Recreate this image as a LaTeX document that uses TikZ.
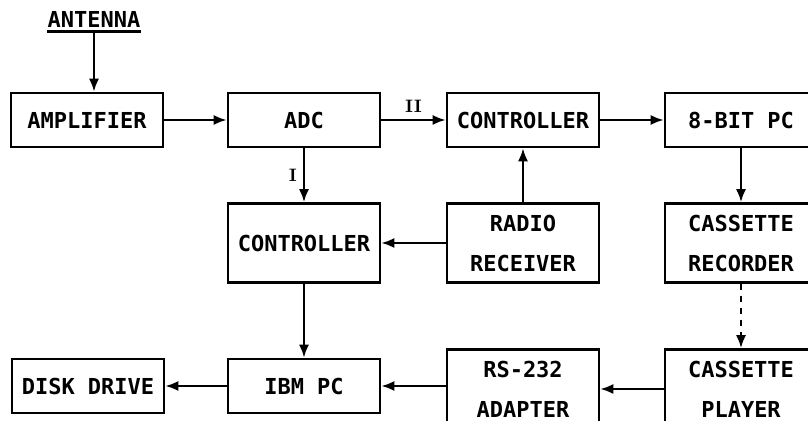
\documentclass[tikz,border=0pt]{standalone}
\usepackage{fontspec}
\setmonofont{DejaVu Sans Mono}
\usetikzlibrary{arrows.meta}

\tikzset{
  box/.style={draw, line width=1.3pt, minimum width=76pt, minimum height=27pt,
    font=\ttfamily\bfseries\fontsize{11}{20}\selectfont},
  tallbox/.style={box, minimum height=39.5pt, align=center},
  arr/.style={-{Latex[length=6.5pt,width=5pt]}, line width=1.1pt},
  roman/.style={font=\rmfamily\bfseries\small, inner sep=3pt}
}

\begin{document}
\begin{tikzpicture}[x=0.5pt, y=-0.5pt]

   \clip (0,0) rectangle (808,421);

   % top row
   \node[inner xsep=0pt, inner ysep=2pt, font=\ttfamily\bfseries\fontsize{11}{13}\selectfont] (antenna) at (94,19) {ANTENNA};
   \draw[line width=1.1pt] (antenna.south west) -- (antenna.south east);

   \node[box] (amp) at (87,120) {AMPLIFIER};
   \node[box] (adc) at (304,120) {ADC};
   \node[box] (ctrlA) at (523,120) {CONTROLLER};
   \node[box] (bitpc) at (741,120) {8-BIT PC};

   % middle row
   \node[tallbox] (ctrlB) at (304,243) {CONTROLLER};
   \node[tallbox] (radio) at (523,243) {RADIO\\RECEIVER};
   \node[tallbox] (recorder) at (741,243) {CASSETTE\\RECORDER};

   % bottom row
   \node[box] (disk) at (88,386) {DISK DRIVE};
   \node[box] (ibm) at (304,386) {IBM PC};
   \node[tallbox] (rs232) at (523,389) {RS-232\\ADAPTER};
   \node[tallbox] (player) at (741,389) {CASSETTE\\PLAYER};

   % connectors
   \draw[arr] (antenna.south) -- (antenna.south |- amp.north);
   \draw[arr] (amp) -- (adc);
   \draw[arr] (adc) -- node[roman, above] {II} (ctrlA);
   \draw[arr] (ctrlA) -- (bitpc);
   \draw[arr] (adc) -- node[roman, left] {I} (ctrlB);
   \draw[arr] (radio) -- (ctrlA);
   \draw[arr] (radio) -- (ctrlB);
   \draw[arr] (bitpc) -- (recorder);
   \draw[arr, dashed] (recorder) -- (player);
   \draw[arr] (ctrlB) -- (ibm);
   \draw[arr] (ibm) -- (disk);
   \draw[arr] (player) -- (rs232);
   \draw[arr] (rs232.west |- ibm) -- (ibm);

\end{tikzpicture}
\end{document}
